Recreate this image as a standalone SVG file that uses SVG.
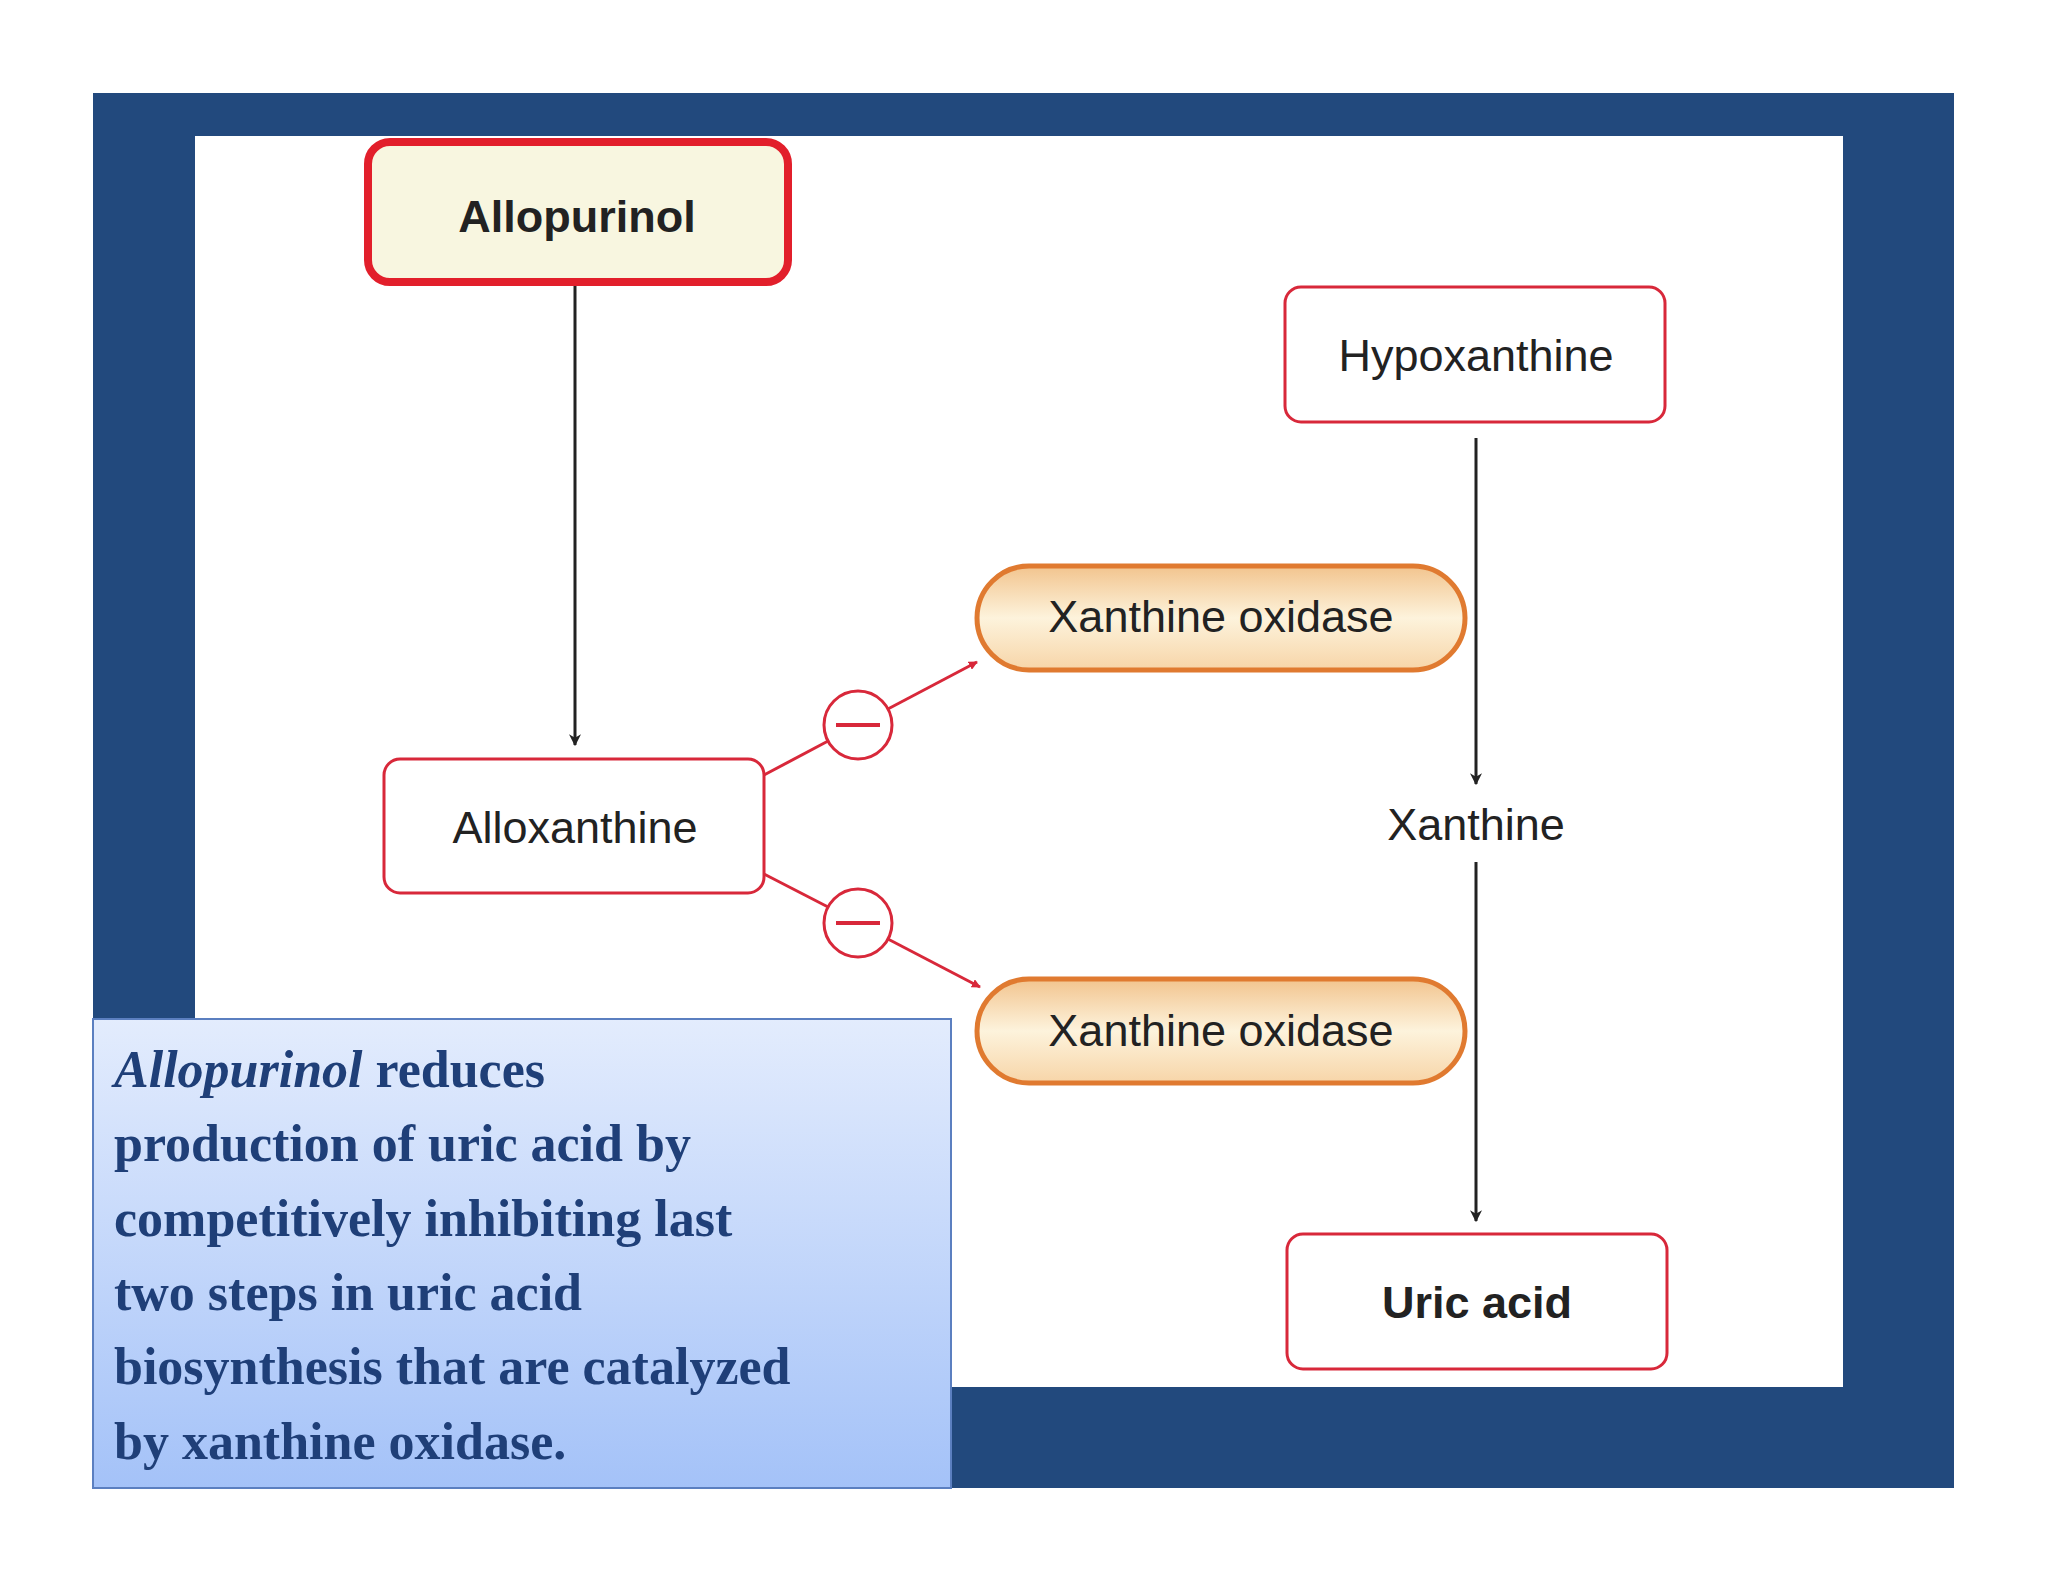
<svg xmlns="http://www.w3.org/2000/svg" width="2048" height="1582" viewBox="0 0 2048 1582">
<defs>
<style>
.box{fill:#fff;stroke:#d8283a;stroke-width:3}
.lbl{font-family:"Liberation Sans",Arial,sans-serif;font-size:45px;fill:#222;text-anchor:middle}
.b{font-weight:bold}
.pill{fill:url(#pg);stroke:#e07a30;stroke-width:5}
.ln{stroke:#222;stroke-width:3;fill:none}
.rl{stroke:#d8283a;stroke-width:3;fill:none}
.body{font-family:"Liberation Serif","Times New Roman",serif;font-size:52px;font-weight:bold;fill:#1f3f78}
</style>
<linearGradient id="pg" x1="0" y1="0" x2="0" y2="1"><stop offset="0" stop-color="#f2c48e"/><stop offset="0.5" stop-color="#fdf3dc"/><stop offset="1" stop-color="#f7d5a8"/></linearGradient>
<linearGradient id="tg" x1="0" y1="0" x2="0" y2="1"><stop offset="0" stop-color="#e3ecfd"/><stop offset="1" stop-color="#a4c2f8"/></linearGradient>
<marker id="ab" viewBox="0 0 10 10" refX="9" refY="5" markerWidth="12" markerHeight="12" markerUnits="userSpaceOnUse" orient="auto"><path d="M0,0 L10,5 L0,10 L3,5z" fill="#222"/></marker>
<marker id="ar" viewBox="0 0 10 10" refX="9" refY="5" markerWidth="9" markerHeight="9" markerUnits="userSpaceOnUse" orient="auto"><path d="M0,0 L10,5 L0,10z" fill="#d8283a"/></marker>
</defs>
<rect x="93" y="93" width="1861" height="1395" fill="#22497d"/>
<rect x="195" y="136" width="1648" height="1251" fill="#fff"/>
<g id="connectors">
<line class="ln" x1="575" y1="284" x2="575" y2="745" marker-end="url(#ab)"/>
<line class="ln" x1="1476" y1="438" x2="1476" y2="784" marker-end="url(#ab)"/>
<line class="ln" x1="1476" y1="862" x2="1476" y2="1221" marker-end="url(#ab)"/>
<line class="rl" x1="764" y1="775" x2="830" y2="740"/>
<line class="rl" x1="886" y1="710" x2="977" y2="662" marker-end="url(#ar)"/>
<line class="rl" x1="764" y1="874" x2="830" y2="908"/>
<line class="rl" x1="886" y1="938" x2="980" y2="987" marker-end="url(#ar)"/>
</g>
<g id="inhib1"><circle cx="858" cy="725" r="34" fill="#fff" stroke="#d8283a" stroke-width="3"/><line x1="836" y1="725" x2="880" y2="725" stroke="#d8283a" stroke-width="4"/></g>
<g id="inhib2"><circle cx="858" cy="923" r="34" fill="#fff" stroke="#d8283a" stroke-width="3"/><line x1="836" y1="923" x2="880" y2="923" stroke="#d8283a" stroke-width="4"/></g>
<g id="allopurinol"><rect x="368" y="142" width="420" height="140" rx="22" fill="#f8f6e0" stroke="#e21f2b" stroke-width="8"/><text class="lbl b" x="577" y="232" font-size="52">Allopurinol</text></g>
<g id="alloxanthine"><rect class="box" x="384" y="759" width="380" height="134" rx="16"/><text class="lbl" x="575" y="843">Alloxanthine</text></g>
<g id="hypoxanthine"><rect class="box" x="1285" y="287" width="380" height="135" rx="16"/><text class="lbl" x="1476" y="371">Hypoxanthine</text></g>
<g id="xanthine"><text class="lbl" x="1476" y="840">Xanthine</text></g>
<g id="uric"><rect class="box" x="1287" y="1234" width="380" height="135" rx="16"/><text class="lbl b" x="1477" y="1318" font-size="50">Uric acid</text></g>
<g id="xo1"><rect class="pill" x="977" y="566" width="488" height="104" rx="52"/><text class="lbl" x="1221" y="632">Xanthine oxidase</text></g>
<g id="xo2"><rect class="pill" x="977" y="979" width="488" height="104" rx="52"/><text class="lbl" x="1221" y="1046">Xanthine oxidase</text></g>
<g id="note">
<rect x="93" y="1019" width="858" height="469" fill="url(#tg)" stroke="#5b7fc0" stroke-width="2"/>
<text class="body" x="114" y="1087"><tspan font-style="italic">Allopurinol</tspan> reduces</text>
<text class="body" x="114" y="1161">production of uric acid by</text>
<text class="body" x="114" y="1236">competitively inhibiting last</text>
<text class="body" x="114" y="1310">two steps in uric acid</text>
<text class="body" x="114" y="1384">biosynthesis that are catalyzed</text>
<text class="body" x="114" y="1459">by xanthine oxidase.</text>
</g>
</svg>
